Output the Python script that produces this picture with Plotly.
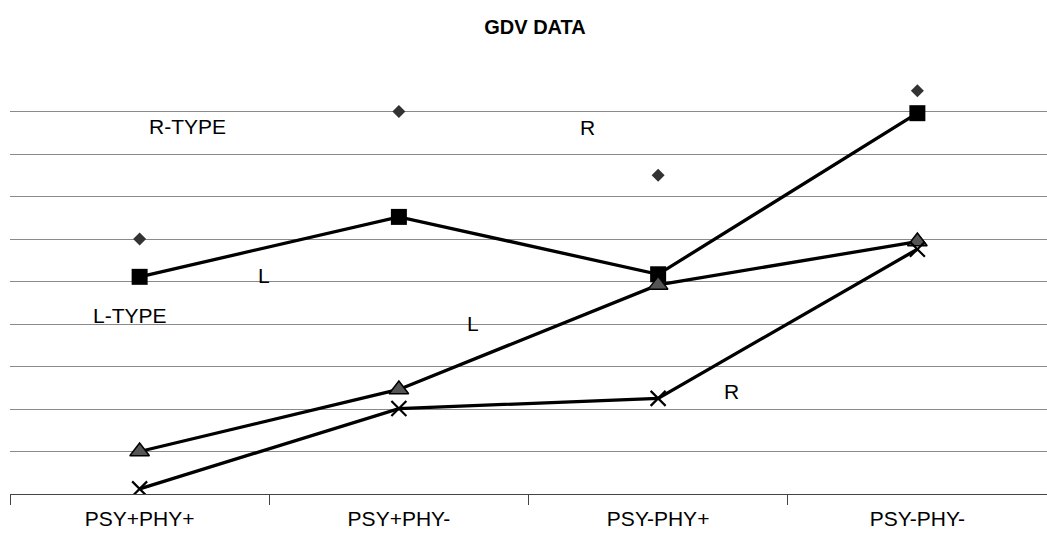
import plotly.graph_objects as go

# GDV measurements for the four PSY/PHY groups
categories = ["PSY+PHY+", "PSY+PHY-", "PSY-PHY+", "PSY-PHY-"]
square_vals = [5.11, 6.52, 5.17, 8.96]
triangle_vals = [1.0, 2.46, 4.92, 5.94]
cross_vals = [0.12, 2.01, 2.25, 5.76]
diamond_vals = [6.0, 9.0, 7.5, 9.49]
grid_vals = [1, 2, 3, 4, 5, 6, 7, 8, 9]

FONT = "Liberation Sans, Arial, sans-serif"
W, H = 1047, 544
ML, MR, MT, MB = 10, 0, 69, 50

fig = go.Figure()

line_style = dict(color="black", width=3.3)

fig.add_trace(go.Scatter(
    x=categories, y=square_vals, mode="lines+markers", line=line_style,
    marker=dict(symbol="square", size=16, color="black"),
))
fig.add_trace(go.Scatter(
    x=categories, y=triangle_vals, mode="lines+markers", line=line_style,
    marker=dict(symbol="triangle-up", size=17, color="#555555",
                line=dict(color="black", width=1.5)),
))
fig.add_trace(go.Scatter(
    x=categories, y=cross_vals, mode="lines+markers", line=line_style,
    marker=dict(symbol="x-thin", size=15, color="black",
                line=dict(color="black", width=2.2)),
))
fig.add_trace(go.Scatter(
    x=categories, y=diamond_vals, mode="markers",
    marker=dict(symbol="diamond", size=10, color="#333333"),
))


def px_to_paper(px, py):
    pw = W - ML - MR
    ph = H - MT - MB
    return (px - ML) / pw, (H - MB - py) / ph


labels = [
    ("R-TYPE", 187, 126),
    ("L-TYPE", 130, 315),
    ("L", 264, 275),
    ("L", 473, 323),
    ("R", 587, 127),
    ("R", 731, 391),
]
for text, px, py in labels:
    xp, yp = px_to_paper(px, py)
    fig.add_annotation(text=text, x=xp, y=yp, xref="paper", yref="paper",
                       showarrow=False, xanchor="center", yanchor="middle",
                       font=dict(family=FONT, size=21, color="black"))

fig.update_layout(
    width=W, height=H,
    margin=dict(l=ML, r=MR, t=MT, b=MB),
    paper_bgcolor="white", plot_bgcolor="white",
    showlegend=False,
    title=dict(text="<b>GDV DATA</b>", x=535 / W, y=1 - 27 / H,
               xanchor="center", yanchor="middle", xref="container",
               yref="container",
               font=dict(family=FONT, size=20, color="black")),
    xaxis=dict(
        type="category", range=[-0.5, 3.5], showgrid=False,
        showline=True, linecolor="#444444", linewidth=1,
        ticks="outside", tickson="boundaries", ticklen=10,
        tickcolor="#444444", tickwidth=1, ticklabelstandoff=6,
        tickfont=dict(family=FONT, size=21, color="black"),
    ),
    yaxis=dict(
        range=[0, 10], tickmode="array", tickvals=grid_vals,
        showticklabels=False, showgrid=True, gridcolor="#8a8a8a",
        gridwidth=1, zeroline=False, showline=False, ticks="",
    ),
)

fig.write_html("out.html")
